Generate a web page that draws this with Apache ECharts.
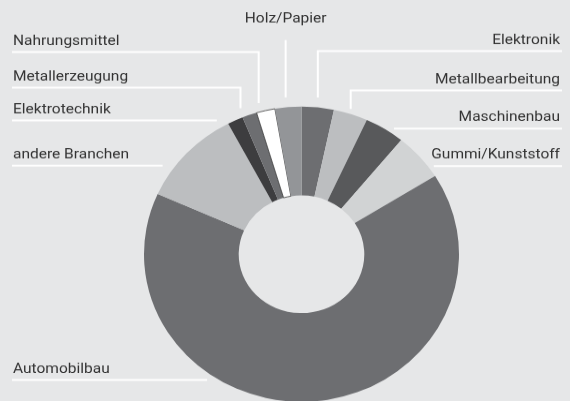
<!DOCTYPE html>
<html>
<head>
<meta charset="utf-8">
<script src="https://cdn.jsdelivr.net/npm/echarts@6/dist/echarts.min.js"></script>
<style>
html, body { margin: 0; padding: 0; background: #e6e7e8; overflow: hidden; width: 570px; height: 401px; }
#c { width: 570px; height: 428px; transform: scaleY(0.937); transform-origin: 0 0; }
</style>
</head>
<body>
<div id="c"></div>
<script>
// ---- data ----
const categories = ['Elektronik', 'Metallbearbeitung', 'Maschinenbau', 'Gummi/Kunststoff', 'Automobilbau',
  'andere Branchen', 'Elektrotechnik', 'Metallerzeugung', 'Nahrungsmittel', 'Holz/Papier'];
const shares = [3.3, 3.5, 4.1, 5.2, 65.5, 10.6, 1.6, 1.5, 1.9, 2.7];

// ---- styles / layout ----
const sliceColors = ['#6d6e71', '#bcbec0', '#58595b', '#d1d3d4', '#6d6e71',
  '#bcbec0', '#3d3d3f', '#6d6e71', '#ffffff', '#939598'];
const labelSide = ['r', 'r', 'r', 'r', 'l', 'l', 'l', 'l', 'l', 'c'];
const labelRoute = ['v', 'v', 'h', 'h', 'h', 'h', 'h', 'v', 'v', 'top'];
const labelLineY = [51, 90.5, 128.5, 166, 380, 165.5, 120.5, 87.5, 52, 40];
const labelGap = [10, 5, 10, 6, 12, 13, 18, 10, 9, 10];
const labelShift = [0, 0, 0, 0, 0, 0, 0, -9, -7, -2.5];

const SCALE = 0.937;
const CX = 301.5, CY = 254.2 / SCALE, R = 157.5, R0 = 62.8;
const LEFT_X = 12, RIGHT_X = 562;

const chart = echarts.init(document.getElementById('c'), null, { renderer: 'canvas' });

function layout(params) {
  const i = params.dataIndex;
  const p0 = params.labelLinePoints ? params.labelLinePoints[0] : [CX, CY - R];
  const route = labelRoute[i];
  const L = labelLineY[i] / SCALE;
  const gap = labelGap[i];
  if (route === 'top') {
    const x = p0[0] + labelShift[i];
    const yEdge = CY - Math.sqrt(R * R - (x - CX) * (x - CX));
    return {
      x: x, y: 19.3 / SCALE, align: 'center', verticalAlign: 'middle',
      labelLinePoints: [[x, yEdge - gap / SCALE], [x, L], [x, L]]
    };
  }
  const isLeft = labelSide[i] === 'l';
  let pts;
  if (route === 'v') {
    const x = p0[0] + labelShift[i];
    const yEdge = CY - Math.sqrt(R * R - (x - CX) * (x - CX));
    pts = [[x, yEdge - gap / SCALE], [x, L], [isLeft ? LEFT_X : RIGHT_X, L]];
  } else {
    const dy = L - CY;
    const dx = Math.sqrt(Math.max(0, R * R - dy * dy));
    const end = isLeft ? CX - dx - gap : CX + dx + gap;
    pts = [[end, L], [end, L], [isLeft ? LEFT_X : RIGHT_X, L]];
  }
  return {
    x: isLeft ? LEFT_X + 1 : RIGHT_X - 2,
    y: (labelLineY[i] - 11) / SCALE,
    align: isLeft ? 'left' : 'right',
    verticalAlign: 'middle',
    labelLinePoints: pts
  };
}

chart.setOption({
  backgroundColor: '#e6e7e8',
  animation: false,
  series: [{
    type: 'pie',
    center: [CX, CY],
    radius: [R0, R],
    startAngle: 90,
    clockwise: true,
    avoidLabelOverlap: false,
    silent: true,
    data: categories.map((name, i) => ({
      name: name,
      value: shares[i],
      itemStyle: {
        color: sliceColors[i],
        borderColor: sliceColors[i] === '#ffffff' ? '#3a3a3a' : sliceColors[i],
        borderWidth: sliceColors[i] === '#ffffff' ? 0.8 : 0
      }
    })),
    label: {
      show: true,
      position: 'outside',
      formatter: '{b}',
      fontFamily: 'Roboto',
      fontSize: 15.5,
      color: '#333333'
    },
    labelLine: {
      show: true,
      length: 10,
      length2: 10,
      smooth: false,
      lineStyle: { color: '#ffffff', width: 2 }
    },
    labelLayout: layout
  }]
});
</script>
</body>
</html>
